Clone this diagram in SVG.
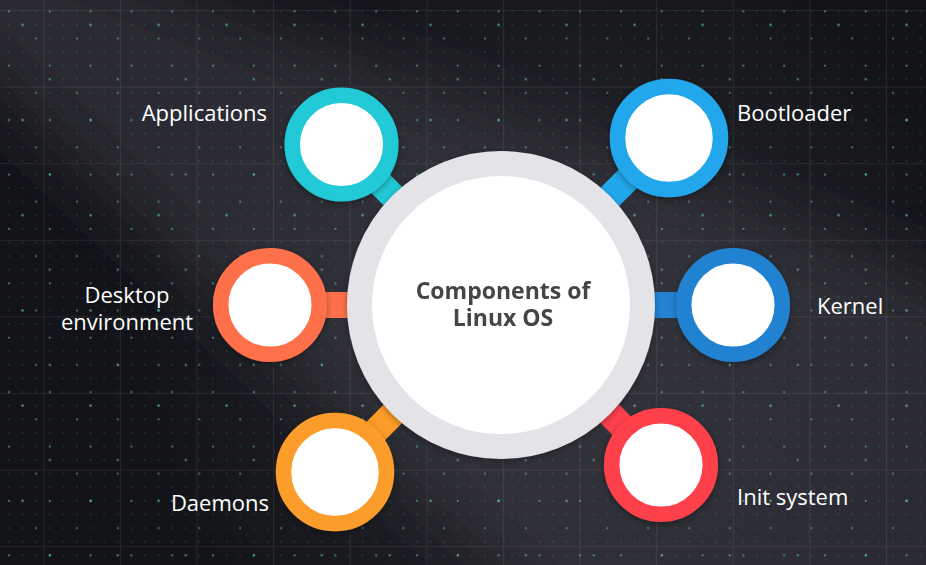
<svg xmlns="http://www.w3.org/2000/svg" width="926" height="565" viewBox="0 0 926 565">
<defs>
<style>
.lbl{font-family:"Open Sans","Liberation Sans",sans-serif;font-size:22px;fill:#ffffff}
.ttl{font-family:"Open Sans","Liberation Sans",sans-serif;font-size:23px;font-weight:bold;fill:#444447;text-anchor:middle}
.conn{stroke-width:26;fill:none}
.ring{fill:#ffffff;stroke-width:15.5}
</style>
<pattern id="grid" patternUnits="userSpaceOnUse" x="43.3" y="10" width="76.6" height="76.6">
<path d="M0 0.5H76.6M0.5 0V76.6" stroke="#ffffff" stroke-opacity="0.08" stroke-width="1"/>
</pattern>
<pattern id="dots" patternUnits="userSpaceOnUse" x="2.2" y="4.5" width="13.6" height="13.6">
<circle cx="6.8" cy="6.8" r="0.8" fill="#5fd6bb" fill-opacity="0.28"/>
</pattern>
<pattern id="dots2" patternUnits="userSpaceOnUse" x="2.2" y="4.5" width="40.8" height="54.4">
<circle cx="6.8" cy="6.8" r="1" fill="#5fd6bb" fill-opacity="0.5"/>
<circle cx="34" cy="34" r="1" fill="#5fd6bb" fill-opacity="0.45"/>
</pattern>
<pattern id="dots3" patternUnits="userSpaceOnUse" x="2.2" y="4.5" width="68" height="95.2">
<circle cx="20.4" cy="20.4" r="1.2" fill="#6fe0c5" fill-opacity="0.6"/>
<circle cx="47.6" cy="74.8" r="1.1" fill="#6fe0c5" fill-opacity="0.55"/>
</pattern>
<filter id="blur" filterUnits="userSpaceOnUse" x="-500" y="-500" width="2000" height="2000">
<feGaussianBlur stdDeviation="35"/>
</filter>
<filter id="sh" x="-20%" y="-20%" width="140%" height="140%">
<feDropShadow dx="0" dy="2" stdDeviation="3" flood-color="#000000" flood-opacity="0.35"/>
</filter>
<radialGradient id="glow" cx="560" cy="330" r="420" gradientUnits="userSpaceOnUse">
<stop offset="0" stop-color="#3a3b43" stop-opacity="0.6"/>
<stop offset="1" stop-color="#3a3b43" stop-opacity="0"/>
</radialGradient>
</defs>
<g id="background">
<rect width="926" height="565" fill="#131419"/>
<polygon points="-286,-185 1050,324 1050,1098" fill="#2a2b32" filter="url(#blur)"/>
<rect width="926" height="565" fill="url(#glow)"/>
<rect width="926" height="565" fill="url(#grid)"/>
<rect width="926" height="565" fill="url(#dots)"/>
<rect width="926" height="565" fill="url(#dots2)"/>
<rect width="926" height="565" fill="url(#dots3)"/>
</g>
<g id="connectors">
<line class="conn" x1="341.5" y1="144.5" x2="501" y2="305" stroke="#21c9d6"/>
<line class="conn" x1="669" y1="138" x2="501" y2="305" stroke="#22a7ec"/>
<line class="conn" x1="270" y1="305" x2="501" y2="305" stroke="#fe7049"/>
<line class="conn" x1="733" y1="305" x2="501" y2="305" stroke="#2482d2"/>
<line class="conn" x1="335" y1="472" x2="501" y2="305" stroke="#fc9c29"/>
<line class="conn" x1="661" y1="465" x2="501" y2="305" stroke="#fe414c"/>
</g>
<g id="node-center" filter="url(#sh)">
<circle cx="501" cy="305" r="141.5" fill="#ffffff" stroke="#e4e3e8" stroke-width="25"/>
<text class="ttl" x="503" y="299">Components of</text>
<text class="ttl" x="503" y="326">Linux OS</text>
</g>
<g id="node-applications">
<circle class="ring" cx="341.5" cy="144.5" r="49.3" stroke="#21c9d6" filter="url(#sh)"/>
<text class="lbl" x="267" y="121" text-anchor="end">Applications</text>
</g>
<g id="node-bootloader">
<circle class="ring" cx="669" cy="138" r="51.5" stroke="#22a7ec" stroke-width="16" filter="url(#sh)"/>
<text class="lbl" x="737" y="121">Bootloader</text>
</g>
<g id="node-desktop">
<circle class="ring" cx="270" cy="305" r="49.3" stroke="#fe7049" filter="url(#sh)"/>
<text class="lbl" x="127" y="303" text-anchor="middle">Desktop</text>
<text class="lbl" x="127" y="330" text-anchor="middle">environment</text>
</g>
<g id="node-kernel">
<circle class="ring" cx="733" cy="305" r="49.3" stroke="#2482d2" filter="url(#sh)"/>
<text class="lbl" x="817" y="314">Kernel</text>
</g>
<g id="node-daemons">
<circle class="ring" cx="335" cy="472" r="51.5" stroke="#fc9c29" stroke-width="16" filter="url(#sh)"/>
<text class="lbl" x="269" y="511" text-anchor="end">Daemons</text>
</g>
<g id="node-init">
<circle class="ring" cx="661" cy="465" r="49.3" stroke="#fe414c" filter="url(#sh)"/>
<text class="lbl" x="737" y="505">Init system</text>
</g>
</svg>
